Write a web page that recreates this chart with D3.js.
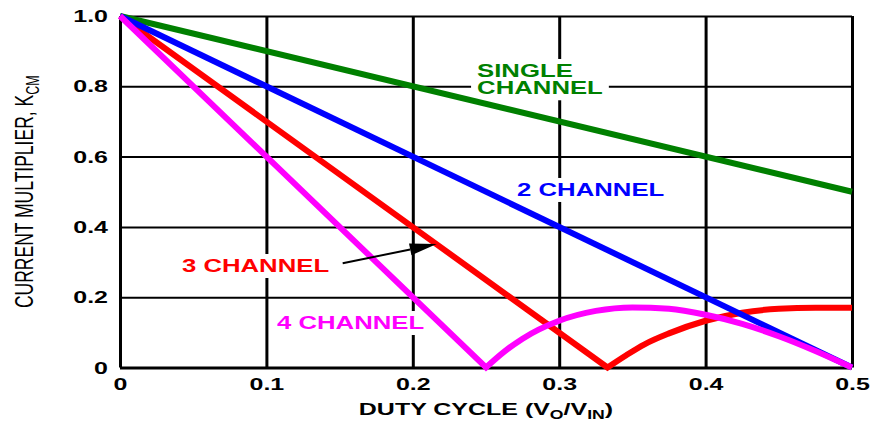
<!DOCTYPE html>
<html>
<head>
<meta charset="utf-8">
<script src="https://cdn.jsdelivr.net/npm/d3@7"></script>
<style>
  html, body { margin: 0; padding: 0; background: #fff; }
  svg { display: block; }
  text { font-family: "Liberation Sans", Arial, Helvetica, sans-serif; }
</style>
</head>
<body>
<svg id="chart" width="873" height="423"></svg>
<script>
// Duty-cycle axis ticks and current-multiplier axis ticks
const xTicks = [0, 0.1, 0.2, 0.3, 0.4, 0.5];
const xTickLabels = ["0", "0.1", "0.2", "0.3", "0.4", "0.5"];
const yTicks = [0, 0.2, 0.4, 0.6, 0.8, 1.0];
const yTickLabels = ["0", "0.2", "0.4", "0.6", "0.8", "1.0"];

// K_CM versus duty cycle, one pair of arrays per channel count.
// The index in *Knee marks the zero point where the curve turns back up.
const singleDuty = [0, 0.5];
const singleK    = [1.0, 0.5];
const singleKnee = -1;

const twoDuty = [0, 0.5];
const twoK    = [1.0, 0];
const twoKnee = -1;

const threeDuty = [0, 0.333, 0.3458, 0.3583, 0.375, 0.4, 0.425, 0.45, 0.475, 0.5];
const threeK    = [1.0, 0,   0.035,  0.066,  0.097, 0.133, 0.156, 0.167, 0.170, 0.170];
const threeKnee = 1;

const fourDuty = [0, 0.25, 0.2625, 0.275, 0.3, 0.325, 0.35, 0.375, 0.4, 0.425, 0.45, 0.475, 0.5];
const fourK    = [1.0, 0,  0.045,  0.082, 0.133, 0.161, 0.171, 0.167, 0.150, 0.124, 0.089, 0.047, 0];
const fourKnee = 1;

const seriesNames  = ["SINGLE CHANNEL", "2 CHANNEL", "3 CHANNEL", "4 CHANNEL"];
const seriesColors = ["#008000", "#0000ff", "#ff0000", "#ff00ff"];

// Build point lists for the line generator
const zip = (xs, ys) => xs.map((d, i) => ({ x: d, y: ys[i] }));
const series = [
  { name: seriesNames[0], color: seriesColors[0], pts: zip(singleDuty, singleK), knee: singleKnee },
  { name: seriesNames[1], color: seriesColors[1], pts: zip(twoDuty, twoK), knee: twoKnee },
  { name: seriesNames[2], color: seriesColors[2], pts: zip(threeDuty, threeK), knee: threeKnee },
  { name: seriesNames[3], color: seriesColors[3], pts: zip(fourDuty, fourK), knee: fourKnee }
];

const svg = d3.select("#chart");
const x = d3.scaleLinear().domain([0, 0.5]).range([120, 852]);
const y = d3.scaleLinear().domain([0, 1]).range([367.5, 16]);
const SX = 1.47; // horizontal stretch of all lettering

// Vertical grid lines (heavy) with bottom tick labels
const xAxis = svg.append("g")
  .attr("transform", `translate(0,${y(0)})`)
  .call(d3.axisBottom(x).tickValues(xTicks)
    .tickFormat((d, i) => xTickLabels[i])
    .tickSize(-(y(0) - y(1))).tickSizeOuter(0));
xAxis.select(".domain").remove();
xAxis.selectAll(".tick line").attr("stroke", "#000").attr("stroke-width", 3);
xAxis.selectAll(".tick text")
  .attr("x", 0).attr("y", 0).attr("dy", null)
  .attr("transform", `translate(0,22) scale(${SX},1)`)
  .attr("text-anchor", "middle")
  .attr("fill", "#000")
  .style("font-size", "17px").style("font-weight", "bold");

// Horizontal grid lines (lighter) with left tick labels
const yAxis = svg.append("g")
  .attr("transform", `translate(${x(0)},0)`)
  .call(d3.axisLeft(y).tickValues(yTicks)
    .tickFormat((d, i) => yTickLabels[i])
    .tickSize(-(x(0.5) - x(0))).tickSizeOuter(0));
yAxis.select(".domain").remove();
yAxis.selectAll(".tick line")
  .attr("stroke", "#000")
  .attr("stroke-width", d => (d === 0 ? 3 : 2));
yAxis.selectAll(".tick text")
  .attr("x", 0).attr("dy", null)
  .attr("transform", `translate(-12,0) scale(${SX},1)`)
  .attr("text-anchor", "end")
  .attr("dominant-baseline", "central")
  .attr("fill", "#000")
  .style("font-size", "17px").style("font-weight", "bold");

// Series labels placed in data units, each on a white knock-out box
const labelDefs = [
  { lines: ["SINGLE", "CHANNEL"], color: seriesColors[0], dx: 0.2439, dy: 0.8265 },
  { lines: ["2 CHANNEL"], color: seriesColors[1], dx: 0.2712, dy: 0.488 },
  { lines: ["3 CHANNEL"], color: seriesColors[2], dx: 0.0423, dy: 0.2717 },
  { lines: ["4 CHANNEL"], color: seriesColors[3], dx: 0.1072, dy: 0.1095 }
];
const lineGap = 17.3;

const labelLayer = svg.append("g");
labelDefs.forEach(def => {
  const g = labelLayer.append("g");
  const ox = x(def.dx), oy = y(def.dy);
  const t = g.append("text")
    .attr("transform", `translate(${ox},${oy}) scale(${SX},1)`)
    .attr("fill", def.color)
    .style("font-size", "17.5px").style("font-weight", "bold");
  def.lines.forEach((s, i) => {
    t.append("tspan").attr("x", 0).attr("dy", i === 0 ? 0 : lineGap).text(s);
  });
  const b = t.node().getBBox();
  const x0 = ox + b.x * SX, x1 = ox + (b.x + b.width) * SX;
  const y0 = oy - 13, y1 = oy + 1 + lineGap * (def.lines.length - 1);
  g.insert("rect", "text")
    .attr("x", x0 - 6).attr("y", y0 - 5)
    .attr("width", x1 - x0 + 12).attr("height", y1 - y0 + 10)
    .attr("fill", "#fff");
});

// Curves: straight fall to the knee, smooth recovery after it
const straight = d3.line().x(d => x(d.x)).y(d => y(d.y));
const smooth = d3.line().x(d => x(d.x)).y(d => y(d.y)).curve(d3.curveMonotoneX);
function curvePath(s) {
  if (s.knee < 0) return straight(s.pts);
  const fall = straight(s.pts.slice(0, s.knee + 1));
  const rise = smooth(s.pts.slice(s.knee));
  return fall + rise.replace(/^M[^LC]*/, "");
}
const drawOrder = [0, 2, 1, 3];
svg.append("g").selectAll("path")
  .data(drawOrder.map(i => series[i]))
  .join("path")
  .attr("d", curvePath)
  .attr("fill", "none")
  .attr("stroke", d => d.color)
  .attr("stroke-width", 6)
  .attr("stroke-linejoin", "miter")
  .attr("stroke-miterlimit", 10)
  .attr("stroke-linecap", "butt");

// Pointer from the 3 CHANNEL label to its curve
const arrowFrom = { x: 0.1521, y: 0.2964 };
const arrowTo   = { x: 0.2163, y: 0.3513 };
const ax0 = x(arrowFrom.x), ay0 = y(arrowFrom.y);
const ax1 = x(arrowTo.x),   ay1 = y(arrowTo.y);
const ang = Math.atan2(ay1 - ay0, ax1 - ax0);
const headLen = 27, headHalf = 6;
const bx = ax1 - headLen * Math.cos(ang), by = ay1 - headLen * Math.sin(ang);
svg.append("line")
  .attr("x1", ax0).attr("y1", ay0).attr("x2", bx).attr("y2", by)
  .attr("stroke", "#000").attr("stroke-width", 2);
svg.append("path")
  .attr("d", `M${ax1},${ay1}L${bx + headHalf * Math.sin(ang)},${by - headHalf * Math.cos(ang)}` +
             `L${bx - headHalf * Math.sin(ang)},${by + headHalf * Math.cos(ang)}Z`)
  .attr("fill", "#000");

// Axis titles
const xTitle = svg.append("text")
  .attr("transform", `translate(${(x(0) + x(0.5)) / 2},415) scale(${SX},1)`)
  .attr("text-anchor", "middle")
  .attr("fill", "#000")
  .style("font-size", "17px").style("font-weight", "bold");
xTitle.append("tspan").text("DUTY CYCLE (V");
xTitle.append("tspan").attr("dy", 4).style("font-size", "12px").text("O");
xTitle.append("tspan").attr("dy", -4).text("/V");
xTitle.append("tspan").attr("dy", 4).style("font-size", "12px").text("IN");
xTitle.append("tspan").attr("dy", -4).text(")");

const yTitle = svg.append("text")
  .attr("transform", `translate(33,${(y(0) + y(1)) / 2}) scale(${SX},1) rotate(-90)`)
  .attr("text-anchor", "middle")
  .attr("fill", "#000")
  .style("font-size", "17.5px");
yTitle.append("tspan").text("CURRENT MULTIPLIER, K");
yTitle.append("tspan").attr("dy", 4).style("font-size", "12.5px").text("CM");
</script>
</body>
</html>
